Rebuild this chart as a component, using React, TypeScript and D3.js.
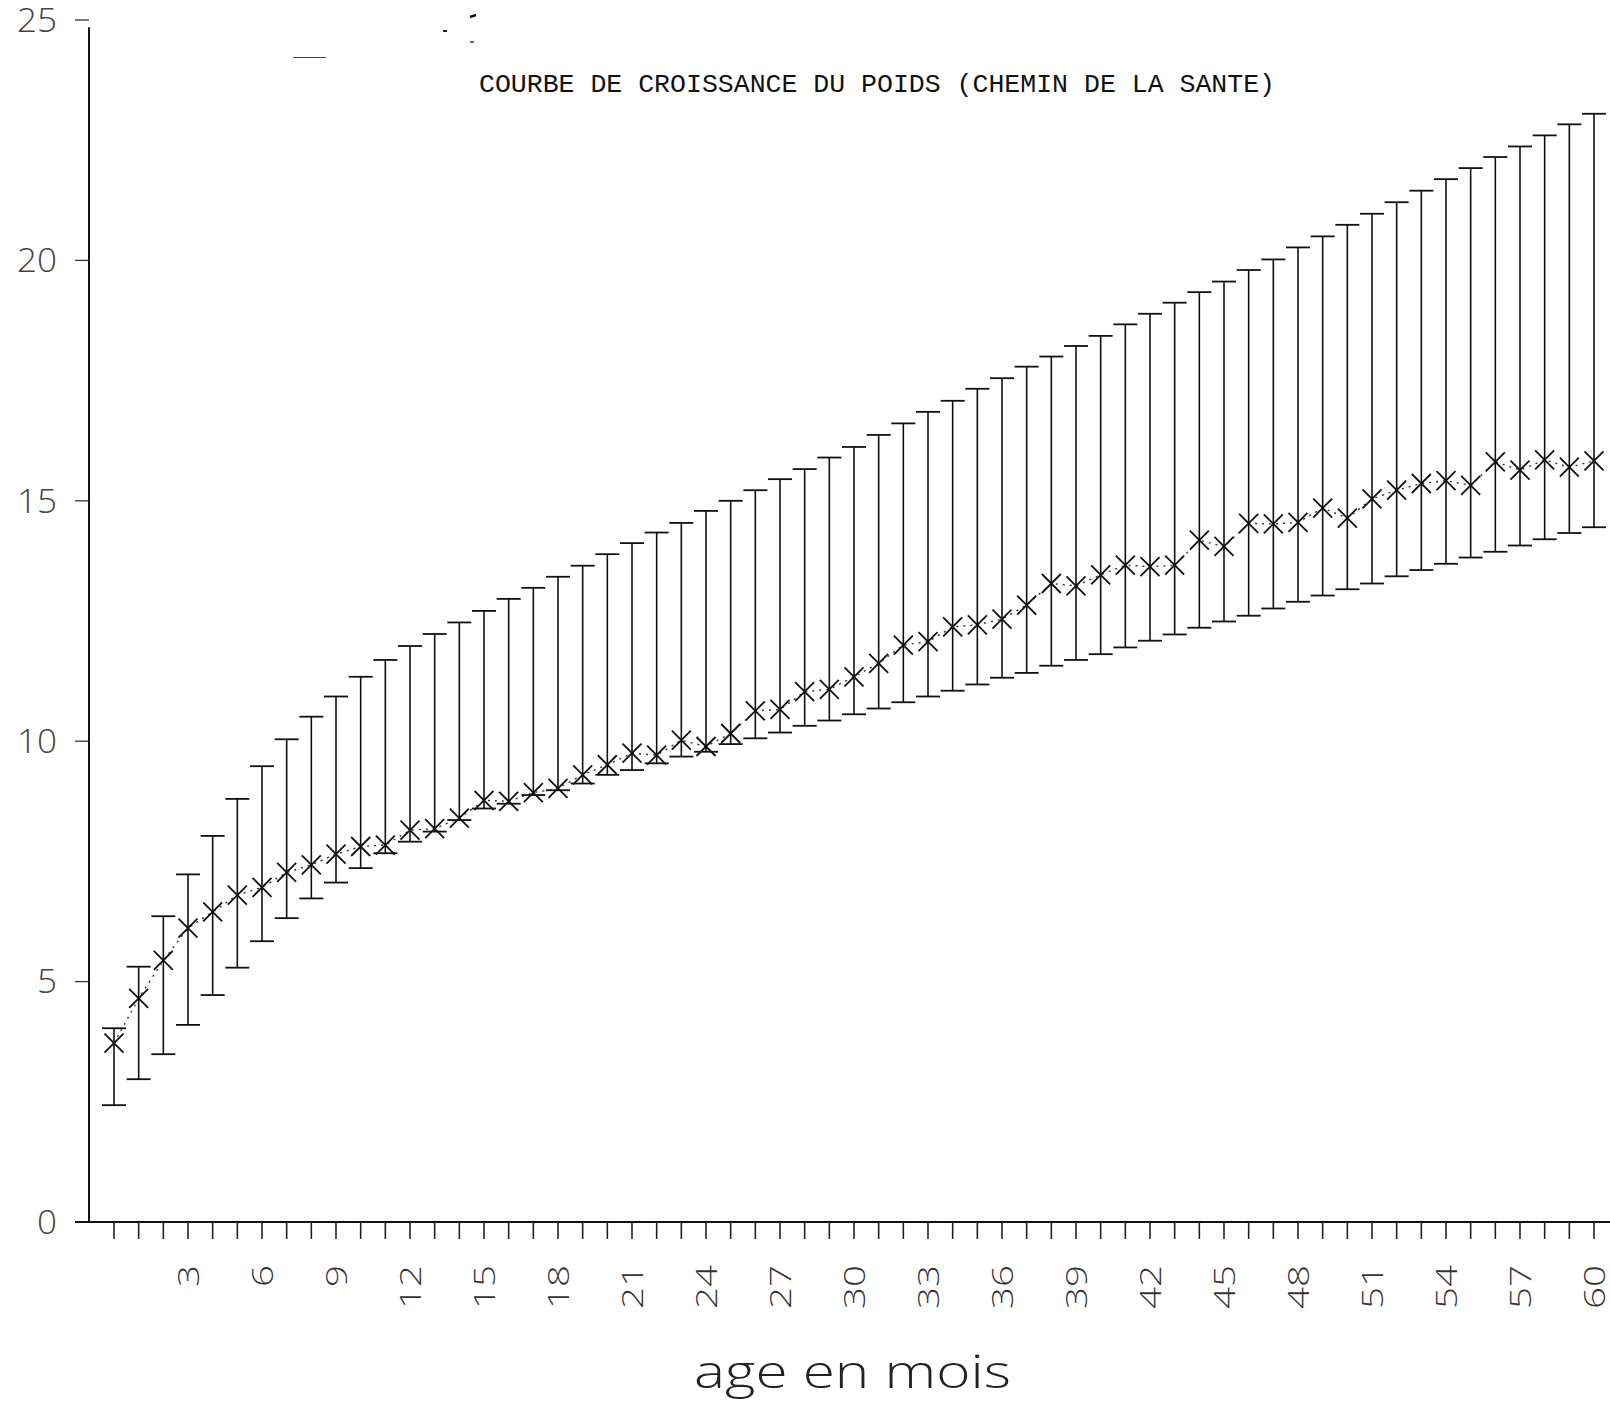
import React from "react";
import * as d3 from "d3";

// Age in months, one bar per month
const ages: number[] = [
  0, 1, 2, 3, 4, 5, 6, 7, 8, 9, 10, 11, 12, 13, 14, 15, 16, 17, 18, 19, 20,
  21, 22, 23, 24, 25, 26, 27, 28, 29, 30, 31, 32, 33, 34, 35, 36, 37, 38, 39, 40,
  41, 42, 43, 44, 45, 46, 47, 48, 49, 50, 51, 52, 53, 54, 55, 56, 57, 58, 59, 60,
];

// Weight (kg): lower bound of each bar
const minWeight: number[] = [
  2.43, 2.97, 3.49, 4.1, 4.72, 5.29, 5.84, 6.32, 6.73, 7.06, 7.36, 7.67, 7.91,
  8.12, 8.36, 8.6, 8.7, 8.88, 8.98, 9.12, 9.3, 9.4, 9.54, 9.68, 9.78, 9.94,
  10.06, 10.18, 10.32, 10.43, 10.56, 10.68, 10.81, 10.93, 11.05, 11.18, 11.32,
  11.42, 11.57, 11.69, 11.81, 11.95, 12.09, 12.22, 12.36, 12.49, 12.61, 12.76,
  12.9, 13.03, 13.16, 13.28, 13.43, 13.56, 13.69, 13.82, 13.94, 14.07, 14.2,
  14.33, 14.45,
];

// Weight (kg): mean, drawn as a cross
const meanWeight: number[] = [
  3.72, 4.65, 5.44, 6.11, 6.45, 6.8, 6.96, 7.27, 7.43, 7.65, 7.81, 7.84, 8.15,
  8.18, 8.4, 8.77, 8.75, 8.93, 9.02, 9.3, 9.51, 9.75, 9.71, 10.02, 9.89, 10.16,
  10.63, 10.66, 11.03, 11.08, 11.34, 11.62, 12.0, 12.07, 12.38, 12.42, 12.54,
  12.83, 13.28, 13.23, 13.46, 13.66, 13.63, 13.66, 14.18, 14.05, 14.53, 14.52,
  14.55, 14.85, 14.64, 15.04, 15.22, 15.36, 15.42, 15.32, 15.81, 15.64, 15.85,
  15.7, 15.83,
];

// Weight (kg): upper bound of each bar
const maxWeight: number[] = [
  4.03, 5.31, 6.36, 7.23, 8.03, 8.8, 9.48, 10.04, 10.51, 10.93, 11.34, 11.69,
  11.98, 12.23, 12.47, 12.71, 12.96, 13.19, 13.42, 13.65, 13.89, 14.12, 14.34,
  14.54, 14.79, 15.0, 15.22, 15.45, 15.66, 15.9, 16.12, 16.37, 16.61, 16.85,
  17.08, 17.33, 17.55, 17.79, 18.0, 18.22, 18.43, 18.67, 18.89, 19.12, 19.34,
  19.56, 19.8, 20.02, 20.27, 20.5, 20.74, 20.97, 21.21, 21.45, 21.69, 21.92,
  22.15, 22.37, 22.6, 22.83, 23.05,
];

const xTickLabels: number[] = [3, 6, 9, 12, 15, 18, 21, 24, 27, 30, 33, 36, 39, 42, 45, 48, 51, 54, 57, 60];
const yTickLabels: number[] = [0, 5, 10, 15, 20, 25];

const TITLE = "COURBE DE CROISSANCE DU POIDS (CHEMIN DE LA SANTE)";
const X_LABEL = "age en mois";

const W = 1610;
const H = 1402;

export default function App() {
  const x = d3.scaleLinear().domain([0, 60]).range([114, 1594]);
  const y = d3.scaleLinear().domain([0, 25]).range([1222, 20]);

  const rows = ages.map((a, i) => ({
    age: a,
    lo: minWeight[i],
    mean: meanWeight[i],
    hi: maxWeight[i],
  }));

  const meanLine = d3
    .line<(typeof rows)[number]>()
    .x((d) => x(d.age))
    .y((d) => y(d.mean))(rows) as string;

  const cap = 12;
  const cross = 9.5;
  const thinFont = "'Open Sans', 'DejaVu Sans', sans-serif";
  const digitAdvance = 22;

  return (
    <svg
      width={W}
      height={H}
      viewBox={`0 0 ${W} ${H}`}
      style={{ position: "absolute", left: 0, top: 0, background: "#fff" }}
    >
      <rect x={0} y={0} width={W} height={H} fill="#fff" />

      {/* title */}
      <text
        x={479}
        y={92}
        fontFamily="'Liberation Mono', 'Courier New', monospace"
        fontSize={25}
        textLength={796}
        lengthAdjust="spacingAndGlyphs"
        fill="#111"
      >
        {TITLE}
      </text>

      {/* small pen marks near the top */}
      <line x1={293} y1={57.5} x2={326} y2={57.5} stroke="#444" strokeWidth={1.2} />
      <line x1={443} y1={31} x2={447} y2={31} stroke="#222" strokeWidth={2} />
      <path d="M470,17 L476,15" stroke="#111" strokeWidth={2.5} fill="none" />
      <line x1={470} y1={42} x2={474} y2={42} stroke="#333" strokeWidth={1.5} />

      {/* y axis */}
      <line x1={89} y1={y(0)} x2={89} y2={y(24.85)} stroke="#111" strokeWidth={2} />
      {yTickLabels.map((v) => {
        const n = String(v).length;
        return (
          <g key={`yt${v}`}>
            <line x1={75} y1={y(v)} x2={89} y2={y(v)} stroke="#333" strokeWidth={1.3} />
            <text
              x={57}
              y={y(v)}
              dy="0.36em"
              textAnchor="end"
              fontFamily={thinFont}
              fontWeight={300}
              fontSize={33}
              textLength={n * 20}
              lengthAdjust="spacingAndGlyphs"
              fill="#444"
            >
              {v}
            </text>
          </g>
        );
      })}

      {/* x axis */}
      <line x1={75} y1={y(0)} x2={W} y2={y(0)} stroke="#111" strokeWidth={2} />
      {ages.map((a) => (
        <line
          key={`xt${a}`}
          x1={x(a)}
          y1={y(0)}
          x2={x(a)}
          y2={y(0) + 17}
          stroke="#222"
          strokeWidth={1.6}
        />
      ))}
      {xTickLabels.map((a) => (
        <text
          key={`xl${a}`}
          transform={`translate(${x(a) - 1},1265) rotate(-90)`}
          textAnchor="end"
          dominantBaseline="central"
          fontFamily={thinFont}
          fontWeight={300}
          fontSize={29}
          textLength={String(a).length * digitAdvance}
          lengthAdjust="spacingAndGlyphs"
          fill="#333"
        >
          {a}
        </text>
      ))}
      <text
        x={694}
        y={1388}
        fontFamily={thinFont}
        fontWeight={300}
        fontSize={46}
        textLength={317}
        lengthAdjust="spacingAndGlyphs"
        fill="#222"
      >
        {X_LABEL}
      </text>

      {/* dotted line through the means */}
      <path d={meanLine} fill="none" stroke="#333" strokeWidth={1.4} strokeDasharray="2 5" />

      {/* range bars */}
      {rows.map((d) => (
        <g key={`b${d.age}`} stroke="#111" fill="none">
          <line x1={x(d.age)} y1={y(d.lo)} x2={x(d.age)} y2={y(d.hi)} strokeWidth={1.6} />
          <line x1={x(d.age) - cap} y1={y(d.hi)} x2={x(d.age) + cap} y2={y(d.hi)} strokeWidth={1.8} />
          <line x1={x(d.age) - cap} y1={y(d.lo)} x2={x(d.age) + cap} y2={y(d.lo)} strokeWidth={1.8} />
          <path
            d={`M${x(d.age) - cross},${y(d.mean) - cross}L${x(d.age) + cross},${y(d.mean) + cross}M${x(d.age) - cross},${y(d.mean) + cross}L${x(d.age) + cross},${y(d.mean) - cross}`}
            strokeWidth={1.8}
          />
        </g>
      ))}
    </svg>
  );
}
